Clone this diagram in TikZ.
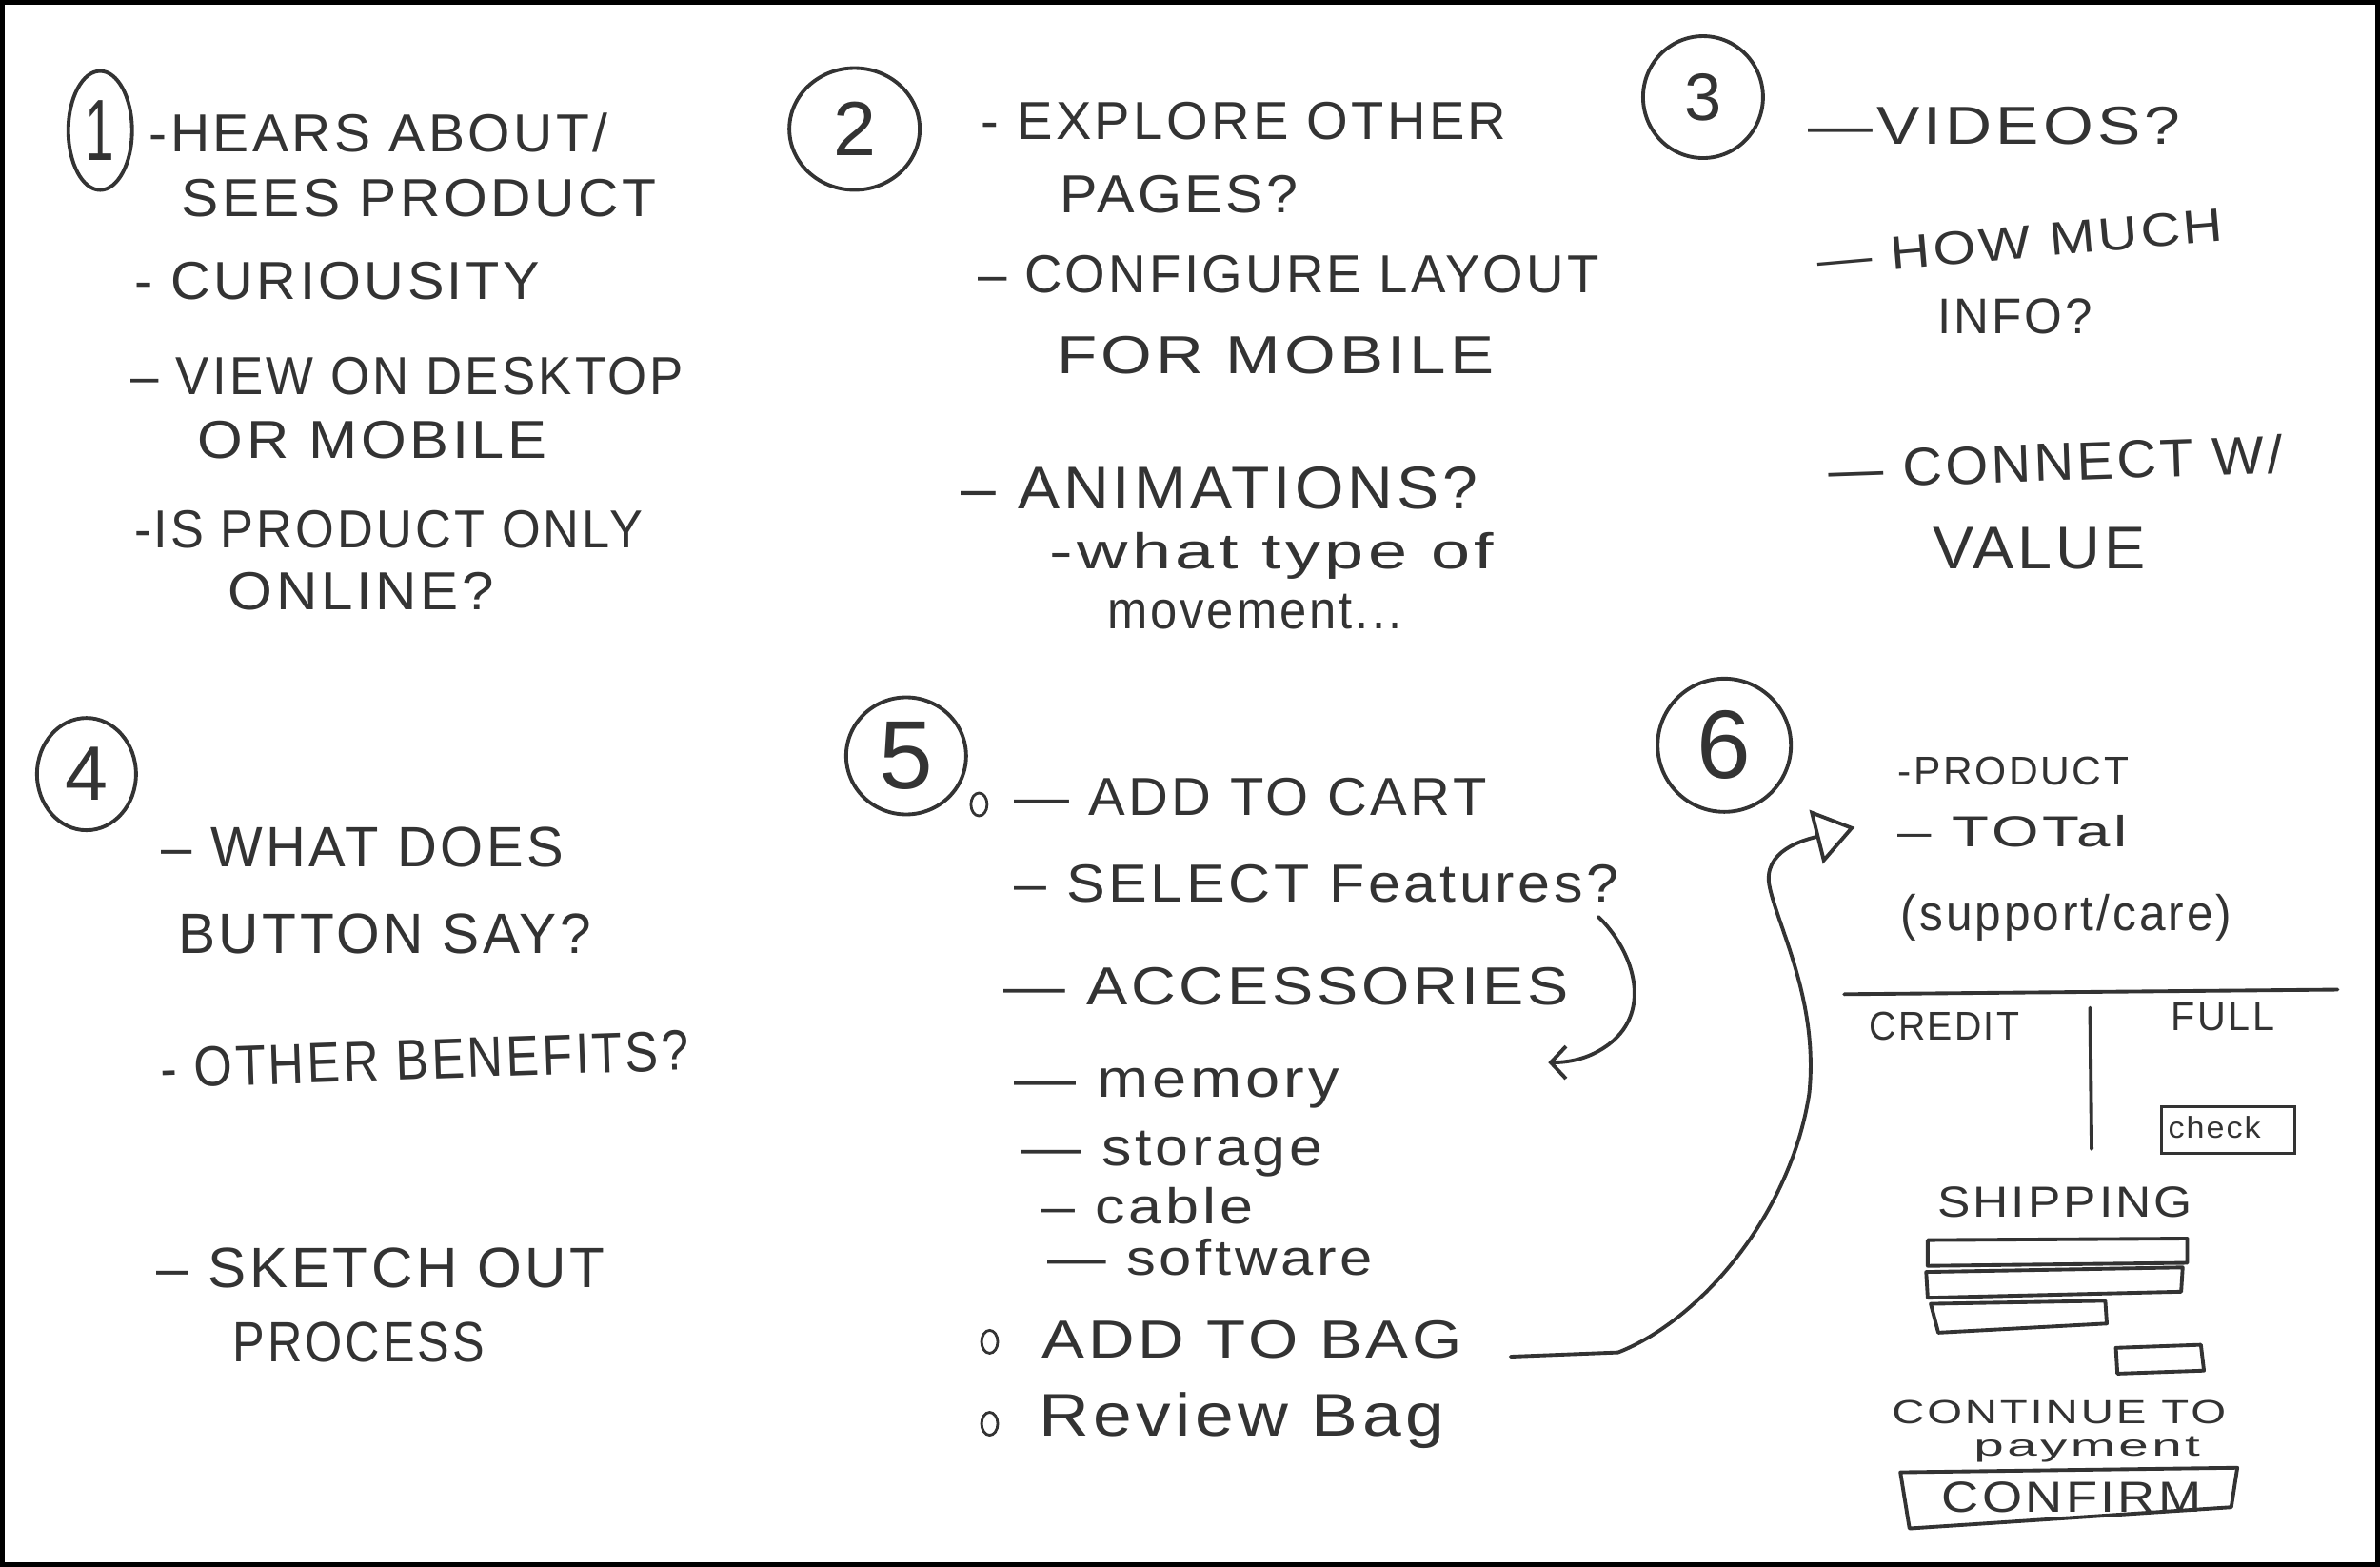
\documentclass[tikz,border=0pt]{standalone}
\usepackage{fontspec}
\usepackage{graphicx}
\newfontfamily\handfont[LetterSpace=6]{Liberation Sans}
\usetikzlibrary{shapes.geometric,arrows.meta}
\definecolor{pencil}{gray}{0.2}
\newlength\dotunit
\setlength\dotunit{0.015944cm}
\newcommand{\handtext}[2]{\resizebox{#1\dotunit}{\height}{#2}}
\tikzset{
  hand/.style={anchor=base west, inner sep=0pt, text=pencil, font=\handfont\fontsize{#1}{#1}\selectfont},
  hand/.default=16,
  digit/.style={text=pencil, inner sep=0pt, font=\handfont\fontsize{#1}{#1}\selectfont},
  stage/.style={ellipse, draw=pencil, line width=1.1pt, inner sep=0pt},
  bullet/.style={ellipse, draw=pencil, line width=0.8pt, inner sep=0pt, minimum width=0.17cm, minimum height=0.24cm},
  pencilline/.style={draw=pencil, line width=1.1pt, line cap=round, line join=round}
}
\begin{document}
\begin{tikzpicture}[x=0.015944cm, y=-0.015944cm]
\useasboundingbox (0,0) rectangle (1568,1032.3);
\fill[black] (0,0) rectangle (1568,1032.3);
\fill[white] (3,3) rectangle (1565,1029.3);
%
% 1
\node[stage, minimum width=0.67cm, minimum height=1.25cm, label={[digit=26]center:{\scalebox{0.6}[1]{1}}}] (one) at (66,86) {};
\node[hand] (hears) at (98,100) {\handtext{302}{-HEARS ABOUT/}};
\node[hand] (sees) at (119,143) {\handtext{313}{SEES PRODUCT}};
\node[hand] (curious) at (88,197) {\handtext{267}{- CURIOUSITY}};
\node[hand] (desktop) at (86,260) {\handtext{364}{– VIEW ON DESKTOP}};
\node[hand] (mobile) at (130,302) {\handtext{230}{OR MOBILE}};
\node[hand] (only) at (88,361) {\handtext{335}{-IS PRODUCT ONLY}};
\node[hand] (online) at (150,402) {\handtext{175}{ONLINE?}};
%
% 2
\node[stage, minimum width=1.37cm, minimum height=1.28cm, label={[digit=23]center:2}] (two) at (563,85) {};
\node[hand] (explore) at (646,92) {\handtext{346}{- EXPLORE OTHER}};
\node[hand] (pages) at (698,140) {\handtext{157}{PAGES?}};
\node[hand] (layout) at (644,193) {\handtext{409}{– CONFIGURE LAYOUT}};
\node[hand] (formobile) at (696,246) {\handtext{288}{FOR MOBILE}};
\node[hand=18] (anim) at (633,335) {\handtext{340}{– ANIMATIONS?}};
\node[hand=15] (type) at (691,375) {\handtext{293}{-what type of}};
\node[hand] (movement) at (729,414) {\handtext{194}{movement...}};
%
% 3
\node[stage, minimum width=1.26cm, minimum height=1.28cm, label={[digit=20]center:3}] (three) at (1122,64) {};
\node[hand] (videos) at (1191,95) {\handtext{245}{—VIDEOS?}};
\node[hand=14, rotate=5] (howmuch) at (1198,182) {\handtext{268}{— HOW MUCH}};
\node[hand=15] (info) at (1276,220) {\handtext{102}{INFO?}};
\node[hand, rotate=2] (connect) at (1205,322) {\handtext{299}{— CONNECT W/}};
\node[hand=18] (value) at (1273,375) {\handtext{140}{VALUE}};
%
% 4
\node[stage, minimum width=1.04cm, minimum height=1.18cm, label={[digit=23]center:4}] (four) at (57,510) {};
\node[hand=17] (whatdoes) at (106,571) {\handtext{265}{– WHAT DOES}};
\node[hand=17] (button) at (117,628) {\handtext{272}{BUTTON SAY?}};
\node[hand=17, rotate=2] (benefits) at (106,717) {\handtext{348}{- OTHER BENEFITS?}};
\node[hand=17] (sketch) at (103,848) {\handtext{295}{– SKETCH OUT}};
\node[hand=17] (process) at (153,897) {\handtext{166}{PROCESS}};
%
% 5
\node[stage, minimum width=1.26cm, minimum height=1.23cm, label={[digit=29]center:5}] (five) at (597,498) {};
\node[bullet] (cartdot) at (645,530) {};
\node[hand] (cart) at (668,537) {\handtext{311}{— ADD TO CART}};
\node[hand] (feat) at (668,594) {\handtext{398}{– SELECT Features?}};
\node[hand] (access) at (661,662) {\handtext{372}{— ACCESSORIES}};
\node[hand] (memory) at (668,723) {\handtext{214}{— memory}};
\node[hand] (storage) at (673,768) {\handtext{198}{— storage}};
\node[hand=15] (cable) at (686,806) {\handtext{139}{– cable}};
\node[hand=15] (software) at (690,840) {\handtext{214}{— software}};
\node[bullet] (bagdot) at (652,884) {};
\node[hand] (bag) at (686,895) {\handtext{277}{ADD TO BAG}};
\node[bullet] (reviewdot) at (652,938) {};
\node[hand=18] (review) at (684,946) {\handtext{267}{Review Bag}};
\coordinate (featturn) at (1053,604);
\coordinate (memtip) at (1020,700);
\draw[pencilline, -{Straight Barb[length=0.16cm, width=0.34cm]}] (featturn) .. controls (1075,625) and (1090,665) .. (1060,688) .. controls (1048,697) and (1035,700) .. (memtip);
%
% 6
\node[stage, minimum width=1.40cm, minimum height=1.40cm, label={[digit=29]center:6}] (six) at (1136,491) {};
\coordinate (totaltip) at (1222,545);
\draw[pencilline, -{Triangle[open, length=0.42cm, width=0.58cm]}, shorten <=0.5cm] (bag.base east) -- (1066,891) .. controls (1120,870) and (1180,800) .. (1192,720) .. controls (1198,660) and (1172,612) .. (1166,585) .. controls (1160,560) and (1190,553) .. (totaltip);
\node[hand=12] (product) at (1250,517) {\handtext{152}{-PRODUCT}};
\node[hand=13] (total) at (1250,558) {\handtext{151}{– TOTal}};
\node[hand=15] (care) at (1252,613) {\handtext{218}{(support/care)}};
\draw[pencilline] (1215,655) -- (1540,652);
\draw[pencilline] (1377,664) -- (1378,757);
\node[hand=12] (credit) at (1231,685) {\handtext{99}{CREDIT}};
\node[hand=12] (full) at (1430,679) {\handtext{68}{FULL}};
\node[draw=pencil, line width=1pt, minimum width=1.40cm, minimum height=0.49cm, anchor=north west, inner sep=0pt] (checkbox) at (1423,728) {};
\node[hand=9] (check) at (1428,750) {\handtext{61}{check}};
\node[hand=13] (shipping) at (1276,802) {\handtext{168}{SHIPPING}};
\draw[pencilline] (1270,817) -- (1441,816) -- (1441,832) -- (1270,834) -- cycle;
\draw[pencilline] (1269,838) -- (1438,835) -- (1437,851) -- (1270,855) -- cycle;
\draw[pencilline] (1272,859) -- (1387,857) -- (1388,872) -- (1277,878) -- cycle;
\draw[pencilline] (1394,888) -- (1450,886) -- (1452,903) -- (1395,905) -- cycle;
\node[hand=10] (continue) at (1246,938) {\handtext{220}{CONTINUE TO}};
\node[hand=9] (payment) at (1300,959) {\handtext{149}{payment}};
\draw[pencilline] (1252,970) -- (1474,967) -- (1470,993) -- (1258,1007) -- cycle;
\node[hand=13] (confirm) at (1279,996) {\handtext{171}{CONFIRM}};
\end{tikzpicture}
\end{document}
